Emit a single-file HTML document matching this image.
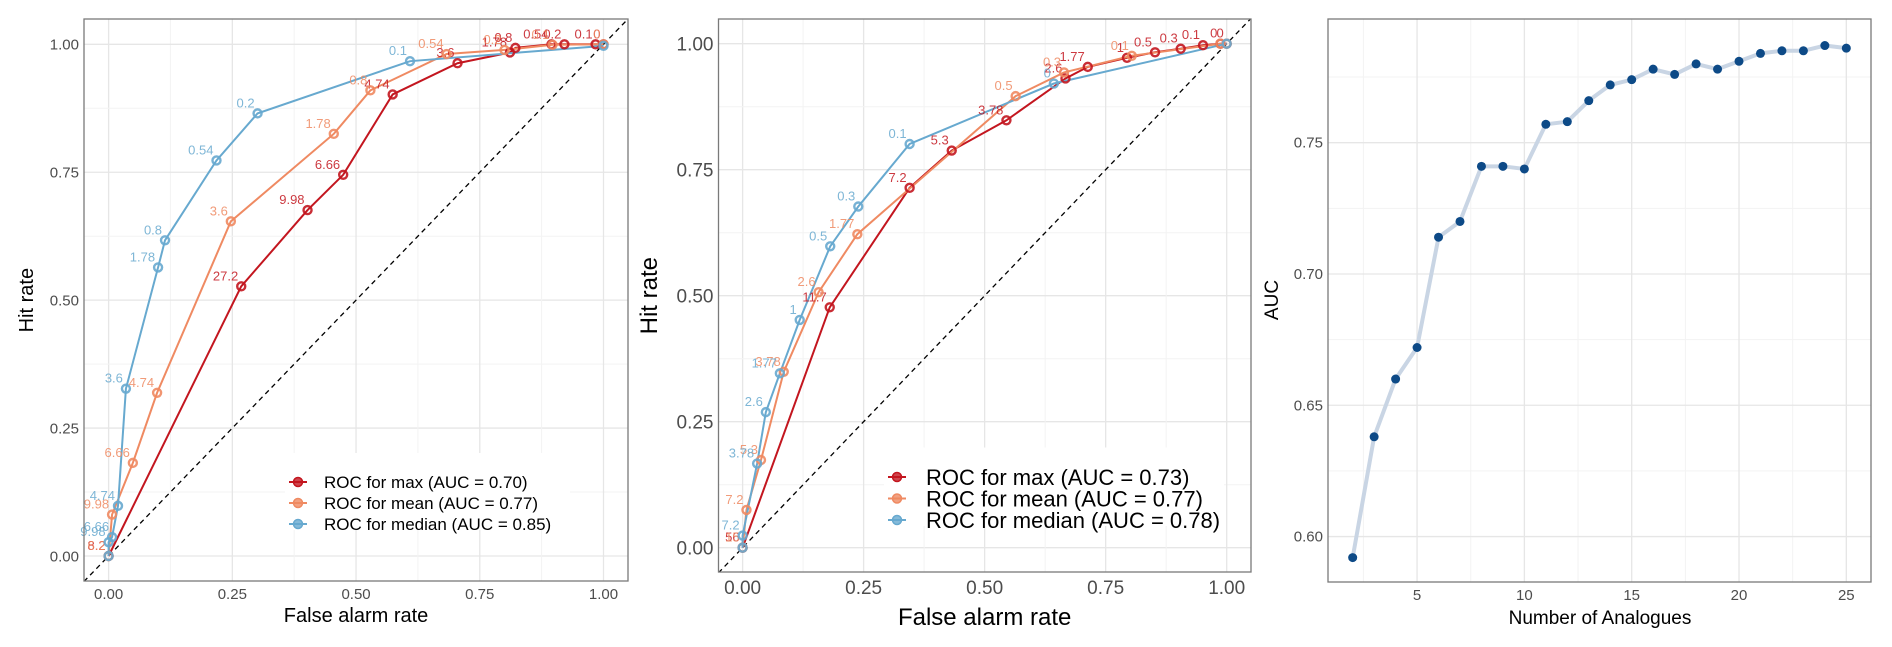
<!DOCTYPE html>
<html><head><meta charset="utf-8"><style>
html,body{margin:0;padding:0;background:#fff;}
svg{display:block;font-family:"Liberation Sans",Arial,sans-serif;}
</style></head><body>
<svg id="chart" width="1892" height="647" viewBox="0 0 1892 647"></svg>
<script>
// ---------- Panel 1 data ----------
const p1MaxX=[0,0.268,0.402,0.474,0.574,0.705,0.811,0.822,0.895,0.921,0.984,1];
const p1MaxY=[0,0.527,0.676,0.745,0.902,0.963,0.984,0.993,1,1,1,1];
const p1MaxL=["8.2","27.2","9.98","6.66","4.74","3.6","1.78","0.8","0.54","0.2","0.1","0"];
const p1MeanX=[0,0.007,0.049,0.098,0.247,0.455,0.529,0.683,0.80,0.897,1];
const p1MeanY=[0,0.081,0.182,0.319,0.654,0.825,0.910,0.981,0.989,0.999,1];
const p1MeanL=["6.2","9.98","6.66","4.74","3.6","1.78","0.8","0.54","0.2","0.1","0"];
const p1MedX=[0,0,0.007,0.019,0.035,0.100,0.114,0.218,0.301,0.609,1];
const p1MedY=[0,0.027,0.037,0.098,0.327,0.564,0.617,0.773,0.865,0.967,0.997];
const p1MedL=["","9.98","6.66","4.74","3.6","1.78","0.8","0.54","0.2","0.1",""];
const p1Legend=["ROC for max (AUC = 0.70)","ROC for mean (AUC = 0.77)","ROC for median (AUC = 0.85)"];
// ---------- Panel 2 data ----------
const p2MaxX=[0,0.18,0.345,0.432,0.545,0.667,0.713,0.794,0.852,0.905,0.951,0.987,1];
const p2MaxY=[0,0.477,0.714,0.788,0.848,0.931,0.954,0.972,0.983,0.990,0.997,1,1];
const p2MaxL=["56","11.7","7.2","5.3","3.78","2.6","1.77","1","0.5","0.3","0.1","0","0"];
const p2MeanX=[0,0.008,0.038,0.085,0.157,0.237,0.564,0.664,0.804,0.987,1];
const p2MeanY=[0,0.075,0.174,0.349,0.507,0.622,0.896,0.943,0.976,1,1];
const p2MeanL=["15","7.2","5.3","3.78","2.6","1.77","0.5","0.3","0.1","",""];
const p2MedX=[0,0,0.030,0.048,0.077,0.118,0.181,0.239,0.345,0.643,1];
const p2MedY=[0,0.024,0.167,0.269,0.346,0.452,0.598,0.677,0.801,0.921,1];
const p2MedL=["","7.2","3.78","2.6","1.77","1","0.5","0.3","0.1","0",""];
const p2Legend=["ROC for max (AUC = 0.73)","ROC for mean (AUC = 0.77)","ROC for median (AUC = 0.78)"];
// ---------- Panel 3 data ----------
const analogues=[2,3,4,5,6,7,8,9,10,11,12,13,14,15,16,17,18,19,20,21,22,23,24,25];
const aucValues=[0.592,0.638,0.660,0.672,0.714,0.720,0.741,0.741,0.740,0.757,0.758,0.766,0.772,0.774,0.778,0.776,0.780,0.778,0.781,0.784,0.785,0.785,0.787,0.786];
const rocTicks=["0.00","0.25","0.50","0.75","1.00"];
const aucXTicks=["5","10","15","20","25"];
const aucYTicks=["0.60","0.65","0.70","0.75"];

const NS="http://www.w3.org/2000/svg";
const svg=document.getElementById('chart');
function mk(tag,attrs,parent,text){const e=document.createElementNS(NS,tag);for(const k in attrs)e.setAttribute(k,attrs[k]);if(text!==undefined)e.textContent=text;(parent||svg).appendChild(e);return e;}
const COL={max:"#C3161F",mean:"#EF8A62",med:"#67A9CF"};

function rocPanel(cfg,series,legend,name){
  const g=mk('g',{});
  
  
  const sx=v=>cfg.x0+v*(cfg.x1-cfg.x0), sy=v=>cfg.y0+v*(cfg.y1-cfg.y0);
  for(let i=0;i<rocTicks.length;i++){
    const v=i*0.25;
    if(i<4){const m=v+0.125;
      mk('line',{x1:sx(m),x2:sx(m),y1:cfg.top,y2:cfg.bot,stroke:'#f3f3f3','stroke-width':1},g);
      mk('line',{x1:cfg.left,x2:cfg.right,y1:sy(m),y2:sy(m),stroke:'#f3f3f3','stroke-width':1},g);}
    mk('line',{x1:sx(v),x2:sx(v),y1:cfg.top,y2:cfg.bot,stroke:'#e6e6e6','stroke-width':1.3},g);
    mk('line',{x1:cfg.left,x2:cfg.right,y1:sy(v),y2:sy(v),stroke:'#e6e6e6','stroke-width':1.3},g);
    const xt=mk('text',{x:sx(v),y:cfg.bot+cfg.tf+3,'text-anchor':'middle','font-size':cfg.tf,fill:'#4d4d4d'},g,rocTicks[i]);
    
    
    const yt=mk('text',{x:cfg.left-5,y:sy(v)+cfg.tf*0.36,'text-anchor':'end','font-size':cfg.tf,fill:'#4d4d4d'},g,rocTicks[i]);
    
    
  }
  const cl='pc'+name;
  const cp=mk('clipPath',{id:cl},g);mk('rect',{x:cfg.left,y:cfg.top,width:cfg.right-cfg.left,height:cfg.bot-cfg.top},cp);
  const d=mk('line',{x1:sx(-0.05),y1:sy(-0.05),x2:sx(1.05),y2:sy(1.05),stroke:'#000','stroke-width':1.3,'stroke-dasharray':'5,4','clip-path':`url(#${cl})`},g);
  
  
  series.forEach(s=>{
    const pts=s.x.map((v,i)=>sx(v)+','+sy(s.y[i])).join(' ');
    const pl=mk('polyline',{points:pts,fill:'none',stroke:s.c,'stroke-width':2},g);
    
    
  });
  series.forEach(s=>{
    s.x.forEach((v,i)=>{
      const c=mk('circle',{cx:sx(v),cy:sy(s.y[i]),r:4,fill:'none',stroke:s.c,'stroke-width':2.4,'stroke-opacity':0.9},g);
      
      
      if(s.l[i]){
        const t=mk('text',{x:sx(v)-3,y:sy(s.y[i])-6,'text-anchor':'end','font-size':cfg.lf,fill:s.c,'fill-opacity':0.85},g,s.l[i]);
        
        
      }
    });
  });
  mk('rect',{x:cfg.left,y:cfg.top,width:cfg.right-cfg.left,height:cfg.bot-cfg.top,fill:'none',stroke:'#7a7a7a','stroke-width':1.3},g);
  const lg=mk('g',{},g);
  
  
  mk('rect',{x:cfg.lgx-18,y:cfg.lgy-cfg.lgs-8,width:cfg.lgw,height:cfg.lgs*3+14,fill:'#fff'},lg);
  [COL.max,COL.mean,COL.med].forEach((c,i)=>{
    const yy=cfg.lgy+i*cfg.lgs;
    const e=mk('g',{},lg);
    
    
    mk('line',{x1:cfg.lgx-14,x2:cfg.lgx+4,y1:yy,y2:yy,stroke:c,'stroke-width':2},e);
    mk('circle',{cx:cfg.lgx-5,cy:yy,r:4.5,fill:c,'fill-opacity':0.8,stroke:c,'stroke-width':1.5},e);
    mk('text',{x:cfg.lgx+cfg.lgo,y:yy+cfg.lgf*0.36,'font-size':cfg.lgf,fill:'#000'},e,legend[i]);
  });
  const xtt=mk('text',{x:(sx(0)+sx(1))/2,y:cfg.xty,'text-anchor':'middle','font-size':cfg.af,fill:'#000'},g,'False alarm rate');
  
  
  const ytt=mk('text',{x:0,y:0,'text-anchor':'middle','font-size':cfg.af,fill:'#000',transform:`translate(${cfg.ytx},${(sy(0)+sy(1))/2}) rotate(-90)`},g,'Hit rate');
  
  
}

rocPanel({left:84,right:628,top:19,bot:581,x0:108.6,x1:603.5,y0:556,y1:44.3,tf:15,lf:13,af:20,xty:622,ytx:33,
  lgx:303,lgy:482,lgs:21,lgf:17,lgo:21,lgw:285},
  [{x:p1MaxX,y:p1MaxY,l:p1MaxL,c:COL.max,n:'max'},{x:p1MeanX,y:p1MeanY,l:p1MeanL,c:COL.mean,n:'mean'},{x:p1MedX,y:p1MedY,l:p1MedL,c:COL.med,n:'median'}],
  p1Legend,'roc-panel-1');
rocPanel({left:718.5,right:1251,top:19,bot:572,x0:742.6,x1:1226.7,y0:547.7,y1:43.7,tf:19,lf:13,af:24,xty:625,ytx:657,
  lgx:902,lgy:477,lgs:21.5,lgf:22,lgo:24,lgw:340},
  [{x:p2MaxX,y:p2MaxY,l:p2MaxL,c:COL.max,n:'max'},{x:p2MeanX,y:p2MeanY,l:p2MeanL,c:COL.mean,n:'mean'},{x:p2MedX,y:p2MedY,l:p2MedL,c:COL.med,n:'median'}],
  p2Legend,'roc-panel-2');

(function(){
  const g=mk('g',{});
  
  
  const L=1328,R=1871,T=19,B=582;
  const xmin=0.85,xmax=26.15,ymin=0.5827,ymax=0.7971;
  const sx=v=>L+(v-xmin)/(xmax-xmin)*(R-L), sy=v=>B-(v-ymin)/(ymax-ymin)*(B-T);
  for(let v=2.5;v<=25;v+=5) mk('line',{x1:sx(v),x2:sx(v),y1:T,y2:B,stroke:'#f3f3f3'},g);
  for(let v=0.625;v<0.8;v+=0.05) mk('line',{x1:L,x2:R,y1:sy(v),y2:sy(v),stroke:'#f3f3f3'},g);
  aucXTicks.forEach(t=>{const v=+t;
    mk('line',{x1:sx(v),x2:sx(v),y1:T,y2:B,stroke:'#e6e6e6','stroke-width':1.3},g);
    const e=mk('text',{x:sx(v),y:B+18,'text-anchor':'middle','font-size':15,fill:'#4d4d4d'},g,t);
    
    
  });
  aucYTicks.forEach(t=>{const v=+t;
    mk('line',{x1:L,x2:R,y1:sy(v),y2:sy(v),stroke:'#e6e6e6','stroke-width':1.3},g);
    const e=mk('text',{x:L-5,y:sy(v)+5,'text-anchor':'end','font-size':15,fill:'#4d4d4d'},g,t);
    
    
  });
  const pl=mk('polyline',{points:analogues.map((a,i)=>sx(a)+','+sy(aucValues[i])).join(' '),fill:'none',stroke:'#c9d5e4','stroke-width':4,'stroke-linejoin':'round'},g);
  
  
  analogues.forEach((a,i)=>{
    const c=mk('circle',{cx:sx(a),cy:sy(aucValues[i]),r:4.5,fill:'#0d4a87'},g);
    
    
  });
  mk('rect',{x:L,y:T,width:R-L,height:B-T,fill:'none',stroke:'#7a7a7a','stroke-width':1.3},g);
  const xt=mk('text',{x:1600,y:624,'text-anchor':'middle','font-size':19,fill:'#000'},g,'Number of Analogues');
  
  
  const yt=mk('text',{x:0,y:0,'text-anchor':'middle','font-size':19,fill:'#000',transform:'translate(1278,300) rotate(-90)'},g,'AUC');
  
  
})();
</script>
</body></html>
